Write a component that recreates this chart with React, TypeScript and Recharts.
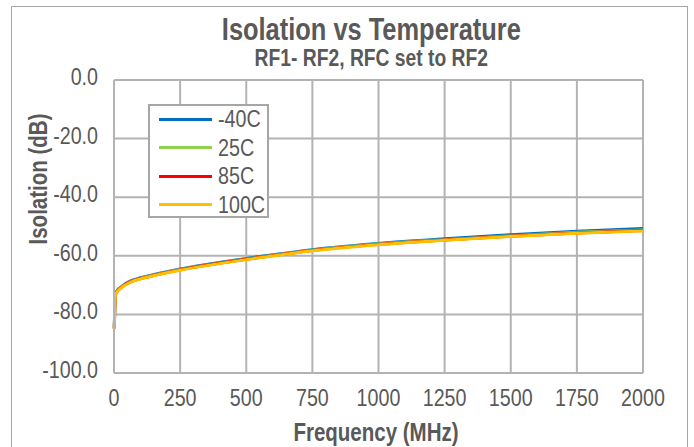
import React from "react";
import { CartesianGrid, Line, LineChart, XAxis, YAxis } from "recharts";

const FONT = "'Liberation Sans', Arial, sans-serif";
const TEXT = "#595959";
const GRID = "#b3b3b3";
const SQUEEZE = 0.82;

// frequency points (MHz)
const freqs = [1, 3, 6, 10, 20, 40, 70, 100, 160, 200, 250, 410, 500, 630, 750, 1000, 1250, 1500, 1750, 2000];

// isolation (dB) per temperature
const isoM40 = [-84.6, -77.6, -72.9, -72.1, -71.1, -69.7, -68.3, -67.5, -66.2, -65.4, -64.5, -62.1, -60.9, -59.3, -57.9, -55.8, -54.2, -52.8, -51.6, -50.7];
const iso25 = [-84.8, -77.8, -73.1, -72.3, -71.3, -69.9, -68.5, -67.7, -66.4, -65.6, -64.7, -62.3, -61.1, -59.5, -58.1, -56.0, -54.5, -53.2, -52.0, -51.2];
const iso85 = [-84.9, -77.9, -73.2, -72.4, -71.4, -70.0, -68.6, -67.8, -66.5, -65.7, -64.8, -62.4, -61.2, -59.6, -58.2, -56.1, -54.6, -53.3, -52.2, -51.4];
const iso100 = [-85.0, -78.0, -73.3, -72.5, -71.5, -70.1, -68.7, -67.9, -66.6, -65.8, -64.9, -62.5, -61.3, -59.7, -58.3, -56.2, -54.7, -53.4, -52.3, -51.5];

const xTicks = [0, 250, 500, 750, 1000, 1250, 1500, 1750, 2000];
const yTicks = [-100, -80, -60, -40, -20, 0];

const series = [
  { key: "m40", name: "-40C", color: "#0070c0", values: isoM40 },
  { key: "t25", name: "25C", color: "#92d050", values: iso25 },
  { key: "t85", name: "85C", color: "#ff0000", values: iso85 },
  { key: "t100", name: "100C", color: "#ffc000", values: iso100 }
];

const data = freqs.map((f, i) => {
  const row: Record<string, number> = { f };
  series.forEach((s) => (row[s.key] = s.values[i]));
  return row;
});

// narrow-looking text: Liberation Sans squeezed horizontally
function XTick(props: any) {
  const { x, y, payload } = props;
  return (
    <text
      transform={`translate(${x},${y}) scale(${SQUEEZE},1)`}
      textAnchor="middle"
      dy="0.71em"
      fill={TEXT}
      fontSize={24}
      fontFamily={FONT}
    >
      {payload.value}
    </text>
  );
}

function YTick(props: any) {
  const { x, y, payload } = props;
  return (
    <text
      transform={`translate(${x},${y}) scale(${SQUEEZE},1)`}
      textAnchor="end"
      dy={5}
      fill={TEXT}
      fontSize={24}
      fontFamily={FONT}
    >
      {Number(payload.value).toFixed(1)}
    </text>
  );
}

const squeezed = (origin: string) => ({
  transform: `scaleX(${SQUEEZE})`,
  transformOrigin: origin,
  display: "inline-block"
});

export default function App() {
  return (
    <div
      style={{
        position: "absolute",
        left: 0,
        top: 0,
        width: 694,
        height: 447,
        background: "#fff",
        overflow: "hidden",
        fontFamily: FONT
      }}
    >
      <div
        style={{
          position: "absolute",
          left: 11,
          top: 6,
          width: 675,
          height: 460,
          border: "1.5px solid #a6a6a6"
        }}
      />
      <div
        style={{
          position: "absolute",
          left: 0,
          width: 742,
          top: 15,
          lineHeight: "29px",
          textAlign: "center",
          fontSize: 31,
          fontWeight: "bold",
          color: TEXT
        }}
      >
        <span style={squeezed("center")}>Isolation vs Temperature</span>
      </div>
      <div
        style={{
          position: "absolute",
          left: 0,
          width: 742,
          top: 47,
          lineHeight: "22px",
          textAlign: "center",
          fontSize: 23.5,
          fontWeight: "bold",
          color: TEXT
        }}
      >
        <span style={squeezed("center")}>RF1- RF2, RFC set to RF2</span>
      </div>
      <div
        style={{
          position: "absolute",
          left: 38,
          top: 179,
          transform: `translate(-50%, -50%) rotate(-90deg) scaleX(${SQUEEZE})`,
          whiteSpace: "nowrap",
          fontSize: 25,
          fontWeight: "bold",
          color: TEXT
        }}
      >
        Isolation (dB)
      </div>
      <div
        style={{
          position: "absolute",
          left: 376,
          top: 432,
          transform: `translate(-50%, -50%) scaleX(${SQUEEZE})`,
          whiteSpace: "nowrap",
          fontSize: 25,
          fontWeight: "bold",
          color: TEXT
        }}
      >
        Frequency (MHz)
      </div>

      <LineChart
        width={694}
        height={447}
        data={data}
        margin={{ top: 80, right: 51, bottom: 0, left: 0 }}
        style={{ position: "absolute", left: 0, top: 0 }}
      >
        <CartesianGrid stroke={GRID} strokeWidth={2} />
        <XAxis
          type="number"
          dataKey="f"
          domain={[0, 2000]}
          ticks={xTicks}
          height={74}
          tickLine={false}
          tickSize={0}
          tickMargin={16}
          axisLine={{ stroke: GRID, strokeWidth: 2 }}
          tick={<XTick />}
        />
        <YAxis
          type="number"
          domain={[-100, 0]}
          ticks={yTicks}
          width={114}
          tickLine={false}
          tickSize={0}
          tickMargin={16}
          axisLine={{ stroke: GRID, strokeWidth: 2 }}
          tick={<YTick />}
        />
        {series.map((s) => (
          <Line
            key={s.key}
            dataKey={s.key}
            name={s.name}
            type="monotone"
            stroke={s.color}
            strokeWidth={3}
            dot={false}
            isAnimationActive={false}
          />
        ))}
      </LineChart>

      <div
        style={{
          position: "absolute",
          left: 148,
          top: 104,
          width: 117,
          height: 110,
          border: "2px solid #a6a6a6",
          background: "#fff"
        }}
      >
        {series.map((s, i) => (
          <div
            key={s.key}
            style={{
              position: "absolute",
              left: 0,
              top: i * 28.5 - 1,
              height: 28,
              display: "flex",
              alignItems: "center",
              whiteSpace: "nowrap"
            }}
          >
            <div style={{ marginLeft: 9, width: 53, height: 3, background: s.color, flex: "none" }} />
            <span style={{ marginLeft: 6, fontSize: 24, color: TEXT, ...squeezed("left") }}>{s.name}</span>
          </div>
        ))}
      </div>
    </div>
  );
}
